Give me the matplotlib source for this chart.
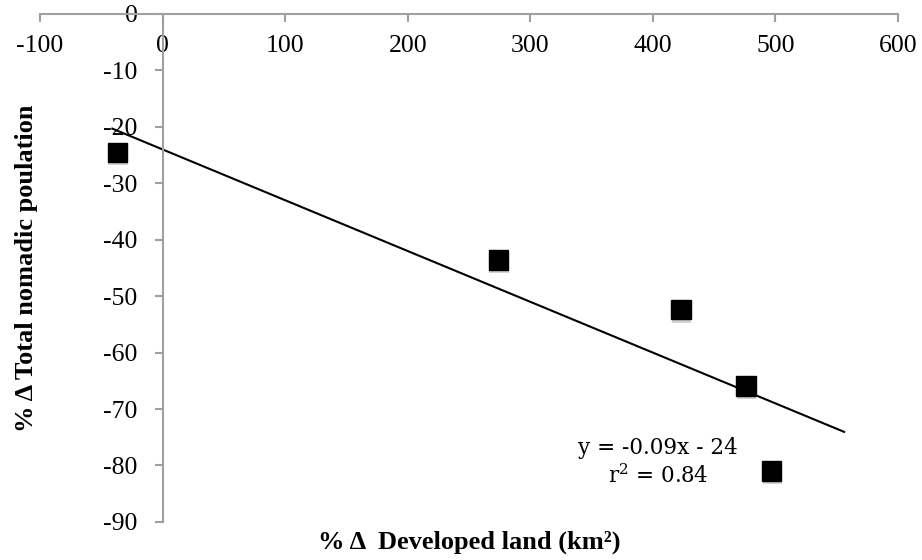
import numpy as np
import matplotlib
matplotlib.use("Agg")
import matplotlib.pyplot as plt
import matplotlib.patheffects as pe

plt.rcParams["axes.unicode_minus"] = False
plt.rcParams["mathtext.fontset"] = "dejavuserif"

# % change in developed land vs % change in nomadic population
developed_change = [-37, 274, 423, 476, 497]
nomad_change = [-24.5, -43.6, -52.4, -65.9, -81.0]

# linear trend as reported in the annotation
slope = -0.09
intercept = -24
trend_x = [-41, 556]

x_ticks = [-100, 0, 100, 200, 300, 400, 500, 600]
y_ticks = [0, -10, -20, -30, -40, -50, -60, -70, -80, -90]

serif = ["Liberation Serif", "DejaVu Serif"]
axis_grey = "#a0a0a0"

fig = plt.figure(figsize=(9.22, 5.6), dpi=100)
ax = fig.add_axes([0.0434, 0.068, 0.9306, 0.907])

tx = np.array(trend_x, dtype=float)
ax.plot(tx, slope * tx + intercept, color="black", lw=1.5, zorder=2)

ax.plot(developed_change, nomad_change, ls="none", marker="s", ms=14,
        color="black", zorder=3,
        path_effects=[pe.SimplePatchShadow(offset=(0.5, -2.5), shadow_rgbFace="gray", alpha=0.35),
                      pe.Normal()])

ax.set_xlim(-100, 600)
ax.set_ylim(-90, 0)
ax.set_xticks(x_ticks)
ax.set_yticks(y_ticks)

# axes cross at the origin: x axis runs along y=0 at the top
ax.spines["bottom"].set_position(("data", 0))
ax.spines["left"].set_position(("data", 0))
ax.spines["top"].set_visible(False)
ax.spines["right"].set_visible(False)
for s in ("bottom", "left"):
    ax.spines[s].set_color(axis_grey)
    ax.spines[s].set_linewidth(1.5)

ax.tick_params(axis="x", direction="out", length=6, width=1.5, color=axis_grey,
               pad=9, labelsize=18.5)
ax.tick_params(axis="y", direction="out", length=6, width=1.5, color=axis_grey,
               pad=12, labelsize=18.5)
for lab in ax.get_xticklabels() + ax.get_yticklabels():
    lab.set_family(serif)

ax.patch.set_visible(False)

fig.text(0.029, 0.521, "% \u0394 Total nomadic poulation", rotation=90,
         ha="center", va="center", fontsize=19, fontweight="bold", family=serif)
fig.text(0.509, 0.021, "% \u0394  Developed land (km\u00b2)",
         ha="center", va="baseline", fontsize=19, fontweight="bold", family=serif)

ax.text(404, -79.4, "y = -0.09x - 24\n$\\mathregular{r^2}$ = 0.84", ha="center", va="center",
        fontsize=15.5, family=["DejaVu Serif"], linespacing=1.3)

fig.savefig("out.png", dpi=100)
